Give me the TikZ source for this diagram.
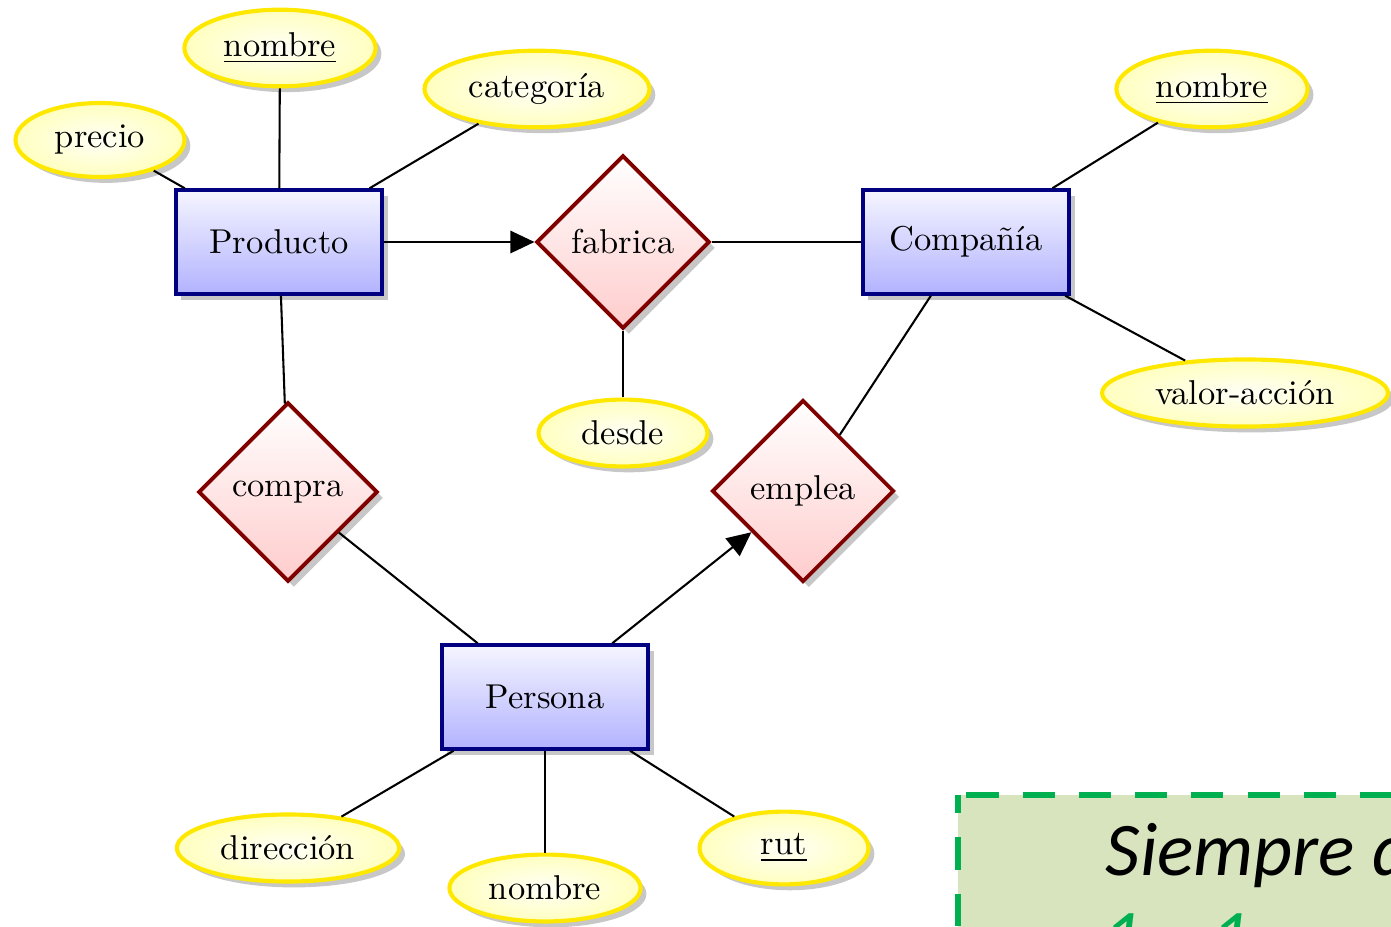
\documentclass[tikz,border=0pt]{standalone}
\usepackage{fontspec}
\newfontfamily\calibri{Carlito}
\usetikzlibrary{shapes.geometric,shadows,arrows.meta}
\definecolor{entb}{rgb}{0,0,0.5}
\definecolor{relb}{rgb}{0.5,0,0}
\definecolor{attrb}{RGB}{255,232,0}
\definecolor{boxgreen}{RGB}{0,176,80}
\definecolor{boxfill}{RGB}{216,228,189}
\tikzset{
  shad/.style={drop shadow={shadow xshift=1.7pt, shadow yshift=-1.7pt, fill=black!22, opacity=1}},
  entity/.style={rectangle, draw=entb, line width=1.15pt, top color=blue!4, bottom color=blue!30,
    minimum width=60pt, minimum height=30pt, shad},
  relation/.style={diamond, aspect=1, draw=relb, line width=1.1pt, top color=white, bottom color=red!20, shad},
  attr/.style={ellipse, draw=attrb, line width=1.2pt, inner color=yellow!3, outer color=yellow!25,
    minimum width=49pt, shad},
  link/.style={line width=0.6pt, black},
  arr/.style={link, -{Triangle[length=7pt,width=6.5pt]}}
}
\begin{document}
\begin{tikzpicture}[x=0.29pt,y=-0.29pt]
\useasboundingbox (0,0) rectangle (1391,926);
% entities
\node[entity] (prod) at (279,242) {Producto};
\node[entity] (comp) at (966,242) {Compañía};
\node[entity] (pers) at (545,697) {Persona};
% relations
\node[relation] (fab) at (623,242) {fabrica};
\node[relation] (compra) at (288,492) {compra};
\node[relation] (emp) at (803,491) {emplea};
% attributes
\node[attr] (pnom) at (280,48) {\underline{nombre}};
\node[attr] (prec) at (100,140) {precio};
\node[attr] (cat) at (537,89) {categoría};
\node[attr] (cnom) at (1212,89) {\underline{nombre}};
\node[attr] (valor) at (1245,393) {valor-acción};
\node[attr] (desde) at (623,433) {desde};
\node[attr] (dir) at (288,848) {dirección};
\node[attr] (penom) at (545,888) {nombre};
\node[attr] (rut) at (784,848) {\underline{rut}};
% connectors
\draw[link] (prod) -- (prec);
\draw[link] (prod) -- (pnom);
\draw[link] (prod) -- (cat);
\draw[arr] (prod) -- (fab);
\draw[link] (fab) -- (comp);
\draw[link] (fab) -- (desde);
\draw[link] (comp) -- (cnom);
\draw[link] (comp) -- (valor);
\draw[link] (comp) -- (emp);
\draw[link] (prod) -- (compra);
\draw[link] (compra) -- (pers);
\draw[arr] (pers) -- (emp);
\draw[link] (pers) -- (dir);
\draw[link] (pers) -- (penom);
\draw[link] (pers) -- (rut);
% note box (cut off by the picture's edge, as in the reference)
\begin{scope}
\clip (0,0) rectangle (1391,926);
\draw[draw=boxgreen, fill=boxfill, line width=2pt, dash pattern=on 9.3pt off 7pt, dash phase=4pt]
  (958,795) rectangle (1600,1150);
\node[anchor=base west, inner sep=0pt, font=\calibri\itshape\fontsize{22}{26}\selectfont] (note) at (1105,875) {Siempre d};
\node[anchor=base west, inner sep=0pt, text=boxgreen, font=\calibri\itshape\fontsize{22}{26}\selectfont] (one1) at (1103,962) {1};
\node[anchor=base west, inner sep=0pt, text=boxgreen, font=\calibri\itshape\fontsize{22}{26}\selectfont] (one2) at (1211,962) {1};
\end{scope}
\end{tikzpicture}
\end{document}
